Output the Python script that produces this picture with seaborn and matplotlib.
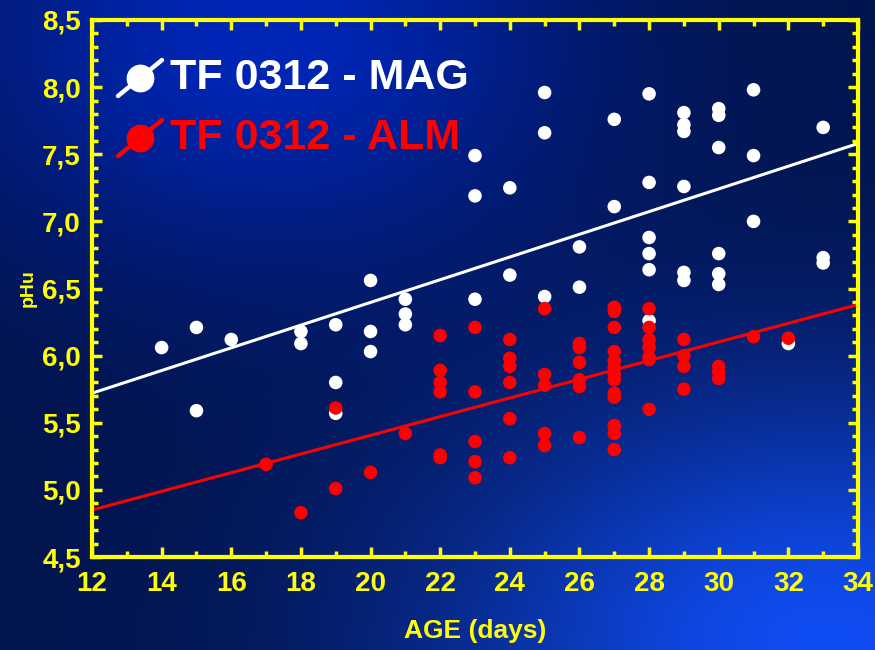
import numpy as np
import pandas as pd
import matplotlib
matplotlib.use("Agg")
import matplotlib.pyplot as plt
import seaborn as sns
from matplotlib.ticker import MultipleLocator, FuncFormatter

# --- data: pH by age (days) for two lines ---
mag_age = [14, 15, 15, 16, 18, 18, 19, 19, 19, 20, 20, 20, 21, 21, 21,
           23, 23, 23, 24, 24, 25, 25, 25, 26, 26, 27, 27,
           28, 28, 28, 28, 28, 28, 29, 29, 29, 29, 29, 29,
           30, 30, 30, 30, 30, 30, 31, 31, 31, 32, 33, 33, 33]
mag_ph = [6.06, 6.21, 5.59, 6.12, 6.18, 6.09, 6.23, 5.80, 5.57, 6.56, 6.18, 6.03, 6.42, 6.31, 6.23,
          7.49, 7.19, 6.42, 7.25, 6.60, 7.96, 7.66, 6.44, 6.81, 6.51, 7.76, 7.11,
          7.95, 7.29, 6.88, 6.76, 6.64, 6.26, 7.81, 7.72, 7.67, 7.26, 6.62, 6.56,
          7.84, 7.79, 7.55, 6.76, 6.61, 6.53, 7.98, 7.49, 7.00, 6.09, 7.70, 6.73, 6.69]

alm_age = [17, 18, 19, 19, 20, 21,
           22, 22, 22, 22, 22, 22,
           23, 23, 23, 23, 23,
           24, 24, 24, 24, 24, 24,
           25, 25, 25, 25, 25,
           26, 26, 26, 26, 26, 26,
           27, 27, 27, 27, 27, 27, 27, 27, 27, 27, 27, 27, 27,
           28, 28, 28, 28, 28, 28, 28,
           29, 29, 29, 29, 30, 30, 30, 31, 32]
alm_ph = [5.19, 4.83, 5.61, 5.01, 5.13, 5.42,
          6.15, 5.89, 5.80, 5.73, 5.26, 5.24,
          6.21, 5.73, 5.36, 5.21, 5.09,
          6.12, 5.98, 5.92, 5.80, 5.53, 5.24,
          6.35, 5.86, 5.78, 5.42, 5.33,
          6.09, 6.06, 5.95, 5.82, 5.77, 5.39,
          6.36, 6.33, 6.21, 6.03, 5.96, 5.91, 5.86, 5.82, 5.72, 5.69, 5.48, 5.42, 5.30,
          6.35, 6.21, 6.12, 6.06, 5.99, 5.97, 5.60,
          6.12, 6.00, 5.92, 5.75, 5.92, 5.88, 5.83, 6.14, 6.13]

# fitted trend lines (pH at the ends of the age range)
fit_age = [12, 34]
fit_mag = [5.72, 7.58]
fit_alm = [4.85, 6.38]

series_names = ["TF 0312 - MAG", "TF 0312 - ALM"]
series_colors = ["#ffffff", "#ff0000"]

x_ticks = list(range(12, 35, 2))
y_ticks = [4.5, 5.0, 5.5, 6.0, 6.5, 7.0, 7.5, 8.0, 8.5]

df = pd.concat([
    pd.DataFrame({"age": mag_age, "ph": mag_ph, "line": series_names[0]}),
    pd.DataFrame({"age": alm_age, "ph": alm_ph, "line": series_names[1]}),
])
fits = pd.concat([
    pd.DataFrame({"age": fit_age, "ph": fit_mag, "line": series_names[0]}),
    pd.DataFrame({"age": fit_age, "ph": fit_alm, "line": series_names[1]}),
])

sns.set_theme(style="white")
plt.rcParams["font.family"] = ["Liberation Sans", "DejaVu Sans"]
YEL = "#ffff00"

fig = plt.figure(figsize=(8.75, 6.5), dpi=100)

# blue slide-style backdrop
bg = fig.add_axes([0, 0, 1, 1], zorder=-10)
H, W = 260, 350
yy, xx = np.mgrid[0:1:H * 1j, 0:1:W * 1j]
dark = np.array([0.01, 0.08, 0.30])
glow1 = np.exp(-(((xx - 0.30) / 0.35) ** 2 + ((yy - 0.05) / 0.35) ** 2))
glow2 = np.exp(-(((xx - 0.95) / 0.45) ** 2 + ((yy - 1.0) / 0.40) ** 2))
img = dark[None, None, :] * np.ones((H, W, 3))
img += glow1[..., None] * np.array([-0.01, 0.07, 0.42])
img += glow2[..., None] * np.array([0.05, 0.22, 0.65])
img = np.clip(img, 0, 1)
bg.imshow(img, aspect="auto", extent=[0, 1, 0, 1], origin="upper")
bg.axis("off")

ax = fig.add_axes([92 / 875, 1 - 557 / 650, (858 - 92) / 875, (557 - 20) / 650])
ax.patch.set_alpha(0)

palette = dict(zip(series_names, series_colors))
sns.lineplot(data=fits, x="age", y="ph", hue="line", palette=palette,
             linewidth=2.2, legend=False, ax=ax, zorder=2)
sns.scatterplot(data=df, x="age", y="ph", hue="line", palette=palette,
                s=95, linewidth=0, legend=False, ax=ax, zorder=3)

ax.set_xlim(12, 34)
ax.set_ylim(4.5, 8.5)
ax.set_xticks(x_ticks)
ax.set_yticks(y_ticks)
ax.xaxis.set_minor_locator(MultipleLocator(1))
ax.yaxis.set_minor_locator(MultipleLocator(0.1))
ax.yaxis.set_major_formatter(FuncFormatter(lambda v, p: f"{v:.1f}".replace(".", ",")))

for s in ax.spines.values():
    s.set_color(YEL)
    s.set_linewidth(3)
ax.tick_params(which="both", direction="in", color=YEL, top=True, right=True,
               bottom=True, left=True)
ax.tick_params(which="major", length=7, width=2.5)
ax.tick_params(which="minor", length=4, width=2.5)
ax.tick_params(axis="x", which="major", pad=10)
ax.tick_params(axis="y", which="major", pad=8)
for lab in ax.get_xticklabels() + ax.get_yticklabels():
    lab.set_color(YEL)
    lab.set_fontweight("bold")
    lab.set_fontsize(20)

ax.set_xlabel("AGE (days)", color=YEL, fontsize=19, fontweight="bold", labelpad=16)
ax.set_ylabel("pHu", color=YEL, fontsize=14, fontweight="bold", labelpad=4)

# legend entries: marker with a diagonal stroke, then the label
for i, (name, col) in enumerate(zip(series_names, series_colors)):
    cy = 1 - (78 + 60 * i - 20) / 537
    cx = (140 - 92) / 766
    dx, dy = 22 / 766, 18 / 537
    ax.plot([cx - dx, cx + dx], [cy - dy, cy + dy], color=col, lw=3.2,
            transform=ax.transAxes, clip_on=False, zorder=4)
    ax.plot([cx], [cy], "o", color=col, ms=19, transform=ax.transAxes,
            clip_on=False, zorder=5)
    ax.text((170 - 92) / 766, cy, name, color=col, fontsize=31, fontweight="bold",
            va="center", ha="left", transform=ax.transAxes, zorder=5)

fig.savefig("out.png", dpi=100)
